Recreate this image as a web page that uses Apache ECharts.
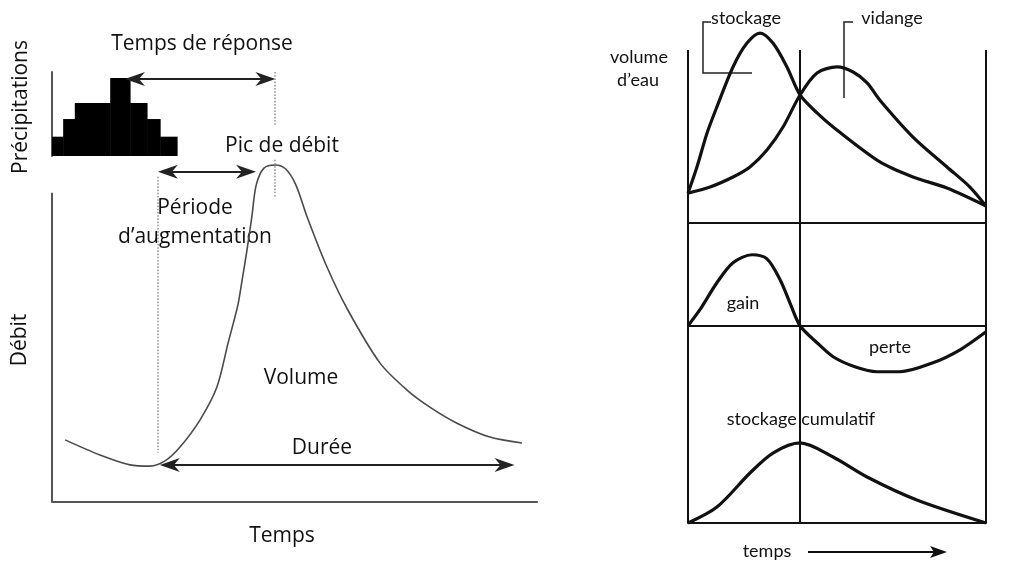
<!DOCTYPE html>
<html>
<head>
<meta charset="utf-8">
<script src="https://cdn.jsdelivr.net/npm/echarts@6/dist/echarts.min.js"></script>
<style>
html, body { margin: 0; padding: 0; background: #fff; }
#chart { width: 1010px; height: 562px; }
</style>
</head>
<body>
<div id="chart"></div>
<script>
// --- hydrogramme (gauche) : temps 0-100, débit 0-100 (axe dessiné jusqu'à 100) ---
var hydroTime = [2.7, 9.9, 16.1, 20.2, 23.3, 26.4, 30.5, 34.0, 36.3, 38.3, 39.2, 40.2, 41.2, 42.1, 43.7, 46.0, 48.2, 50.3, 52.6, 56.7, 61.0, 67.6, 73.2, 77.9, 83.5, 90.3, 96.9];
var hydroFlow = [20.1, 15.2, 12.0, 11.6, 13.3, 17.8, 26.5, 37.2, 51.4, 63.5, 71.8, 81.5, 92.2, 102.5, 108.0, 109.0, 107.7, 102.5, 92.2, 76.0, 62.1, 45.0, 36.2, 30.7, 25.5, 21.0, 19.1];

// hyétogramme : début, fin, hauteur de chaque pas
var rainStart = [0, 2.3, 4.7, 12.0, 16.1, 19.6, 22.3];
var rainEnd = [2.3, 4.7, 12.0, 16.1, 19.6, 22.3, 25.8];
var rainDepth = [2.3, 4.4, 6.3, 9.3, 6.3, 4.4, 2.3];

// repères temporels (pointes des flèches)
var rainPeakTime = 15.1;
var flowPeakTime = 46.0;
var riseStartTime = 21.9;
var riseEndTime = 42.0;
var durationStart = 22.3;
var durationEnd = 95.3;

// --- schéma de droite : temps 0-100 ---
var storeTime = [0, 3.0, 6.4, 9.7, 15.1, 19.8, 24.2, 28.5, 33.2, 37.6, 43.3, 48.7, 64.4, 75.5, 86.9, 100];
var storeVol = [17.3, 32.4, 52.0, 67.1, 90.2, 104.0, 109.8, 104.0, 90.2, 74.0, 63.6, 55.5, 35.3, 26.6, 20.2, 9.8];
var drainTime = [0, 7.4, 15.1, 20.8, 26.5, 31.9, 37.6, 43.3, 50.0, 55.4, 60.1, 64.4, 75.5, 86.9, 94.6, 100];
var drainVol = [17.3, 20.8, 26.6, 32.4, 42.2, 55.5, 74.0, 86.7, 90.2, 87.3, 81.0, 71.0, 49.7, 32.4, 20.8, 9.8];
var balanceTime = [0, 4.0, 9.7, 15.1, 21.5, 26.5, 30.9, 34.2, 37.6, 43.3, 48.7, 56.0, 63.4, 71.1, 82.2, 91.3, 100];
var balanceVal = [0, 12.5, 33.5, 49.0, 55.3, 52.1, 35.8, 17.9, 0, -13.2, -24.1, -31.9, -35.8, -35.8, -28.8, -18.7, -4.7];
var cumulTime = [0, 9.7, 20.8, 28.5, 37.6, 48.7, 60.1, 76.8, 100];
var cumulVal = [0, 12.0, 37.6, 52.6, 60.2, 49.6, 34.6, 17.3, 0];
var splitTime = 37.6;

function pairs(xs, ys) {
	return xs.map(function (x, i) { return [x, ys[i]]; });
}

var leftFont = '21px "Open Sans"';
var rightFont = '18px Lato';
var arrowHead = 'path://M0,0L7,20L0,14L-7,20Z';
var headT = 2.0; // la pointe dépasse l'extrémité d'environ une demi-flèche
var dotted = { color: '#9a9a9a', width: 1.6, type: 'dotted' };

function label(text, x, y, font, rot) {
	return {
		type: 'text',
		x: x, y: y,
		rotation: rot || 0,
		style: {
			text: text, font: font, fill: '#111',
			align: 'center', verticalAlign: 'middle',
			textAlign: 'center', textVerticalAlign: 'middle'
		}
	};
}

function frameLines() {
	return {
		silent: true,
		symbol: 'none',
		label: { show: false },
		lineStyle: { color: '#111', width: 2, type: 'solid' },
		data: [{ xAxis: 0 }, { xAxis: splitTime }, { xAxis: 100 }]
	};
}

function bareAxis(grid, min, max, line) {
	return {
		gridIndex: grid, type: 'value', min: min, max: max,
		axisLine: line ? { show: true, onZero: true, lineStyle: line } : { show: false },
		axisTick: { show: false }, axisLabel: { show: false }, splitLine: { show: false }
	};
}

function arrow(t0, t1, y) {
	return [{ coord: [t0 + headT, y] }, { coord: [t1 - headT, y] }];
}

var thickCurve = { color: '#111', width: 3.2 };
var frameStroke = { color: '#111', width: 2 };
var greyStroke = { color: '#555', width: 2 };

var chart = echarts.init(document.getElementById('chart'));
chart.setOption({
	animation: false,
	backgroundColor: '#fff',
	grid: [
		{ left: 52, top: 131, width: 485, height: 371 },
		{ left: 52, top: 72, width: 485, height: 84 },
		{ left: 688, top: 50, width: 298, height: 173 },
		{ left: 688, top: 223, width: 298, height: 167 },
		{ left: 688, top: 390, width: 298, height: 133 }
	],
	xAxis: [
		bareAxis(0, 0, 100, greyStroke),
		bareAxis(1, 0, 100, null),
		bareAxis(2, 0, 100, frameStroke),
		bareAxis(3, 0, 100, frameStroke),
		bareAxis(4, 0, 100, frameStroke)
	],
	yAxis: [
		bareAxis(0, 0, 120, null),
		bareAxis(1, 0, 10, greyStroke),
		bareAxis(2, 0, 100, null),
		bareAxis(3, -50, 80, null),
		bareAxis(4, 0, 100, null)
	],
	series: [
		{
			name: 'Débit', type: 'line', xAxisIndex: 0, yAxisIndex: 0,
			data: pairs(hydroTime, hydroFlow),
			smooth: 0.3, symbol: 'none', clip: false,
			lineStyle: { color: '#4a4a4a', width: 1.6 },
			markLine: {
				silent: true,
				symbol: [arrowHead, arrowHead],
				symbolSize: 20,
				symbolKeepAspect: true,
				label: { show: false },
				lineStyle: { color: '#222', width: 2, type: 'solid' },
				data: [
					[
						{ coord: [0, 0], symbol: 'none', lineStyle: greyStroke },
						{ coord: [0, 100], symbol: 'none' }
					],
					arrow(riseStartTime, riseEndTime, 106.8),
					arrow(durationStart, durationEnd, 12.0),
					[
						{ coord: [riseStartTime, 105.2], symbol: 'none', lineStyle: dotted },
						{ coord: [riseStartTime, 15.9], symbol: 'none' }
					],
					[
						{ coord: [flowPeakTime, 110.7], symbol: 'none', lineStyle: dotted },
						{ coord: [flowPeakTime, 98.7], symbol: 'none' }
					]
				]
			}
		},
		{
			name: 'Précipitations', type: 'custom', xAxisIndex: 1, yAxisIndex: 1,
			data: rainStart.map(function (s, i) { return [s, rainEnd[i], rainDepth[i]]; }),
			clip: false,
			renderItem: function (params, api) {
				var p0 = api.coord([api.value(0), api.value(2)]);
				var p1 = api.coord([api.value(1), 0]);
				return {
					type: 'rect',
					shape: { x: p0[0], y: p0[1], width: p1[0] - p0[0] + 0.5, height: p1[1] - p0[1] },
					style: { fill: '#000' }
				};
			},
			markLine: {
				silent: true,
				symbol: [arrowHead, arrowHead],
				symbolSize: 20,
				symbolKeepAspect: true,
				label: { show: false },
				lineStyle: { color: '#222', width: 2, type: 'solid' },
				data: [
					arrow(rainPeakTime, flowPeakTime, 9.17),
					[
						{ coord: [flowPeakTime, 10], symbol: 'none', lineStyle: dotted },
						{ coord: [flowPeakTime, 3.7], symbol: 'none' }
					]
				]
			}
		},
		{
			name: 'stockage', type: 'line', xAxisIndex: 2, yAxisIndex: 2,
			data: pairs(storeTime, storeVol),
			smooth: 0.3, symbol: 'none', clip: false, lineStyle: thickCurve,
			markLine: frameLines()
		},
		{
			name: 'vidange', type: 'line', xAxisIndex: 2, yAxisIndex: 2,
			data: pairs(drainTime, drainVol),
			smooth: 0.3, symbol: 'none', clip: false, lineStyle: thickCurve
		},
		{
			name: 'gain / perte', type: 'line', xAxisIndex: 3, yAxisIndex: 3,
			data: pairs(balanceTime, balanceVal),
			smooth: 0.3, symbol: 'none', clip: false, lineStyle: thickCurve,
			markLine: frameLines()
		},
		{
			name: 'stockage cumulatif', type: 'line', xAxisIndex: 4, yAxisIndex: 4,
			data: pairs(cumulTime, cumulVal),
			smooth: 0.3, symbol: 'none', clip: false, lineStyle: thickCurve,
			markLine: frameLines()
		}
	],
	graphic: [
		label('Précipitations', 21, 107, leftFont, Math.PI / 2),
		label('Débit', 20, 340, leftFont, Math.PI / 2),
		label('Temps', 282, 536, leftFont),
		label('Temps de réponse', 202, 44, leftFont),
		label('Pic de débit', 282, 146, leftFont),
		label('Période', 195, 208, leftFont),
		label('d’augmentation', 195, 237, leftFont),
		label('Volume', 301, 378, leftFont),
		label('Durée', 322, 448, leftFont),

		label('stockage', 746, 18, rightFont),
		label('vidange', 892, 18, rightFont),
		label('volume', 639, 57, rightFont),
		label('d’eau', 638, 80, rightFont),
		label('gain', 743, 303, rightFont),
		label('perte', 890, 347, rightFont),
		label('stockage cumulatif', 801, 419, rightFont),
		label('temps', 767, 551, rightFont),
		{
			type: 'polyline',
			shape: { points: [[711, 22], [703, 22], [703, 73], [752, 73]] },
			style: { stroke: '#222', lineWidth: 1.5, fill: null }
		},
		{
			type: 'polyline',
			shape: { points: [[853, 22], [844, 22], [844, 98]] },
			style: { stroke: '#222', lineWidth: 1.5, fill: null }
		},
		{
			type: 'line',
			shape: { x1: 808, y1: 552, x2: 936, y2: 552 },
			style: { stroke: '#111', lineWidth: 2 }
		},
		{
			type: 'polygon',
			shape: { points: [[947, 552], [930, 546], [934, 552], [930, 558]] },
			style: { fill: '#111' }
		}
	]
});
</script>
</body>
</html>
